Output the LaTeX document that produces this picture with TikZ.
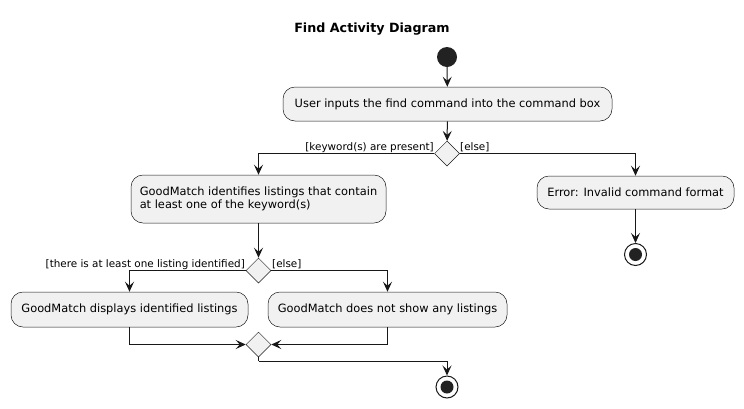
\documentclass[tikz,border=0pt]{standalone}
\usepackage{fontspec}
\setmainfont{DejaVu Sans}
\usepackage{xcolor}
\usetikzlibrary{shapes.geometric, arrows.meta}

\definecolor{boxfill}{HTML}{F1F1F1}
\definecolor{linecol}{HTML}{181818}
\definecolor{dotcol}{HTML}{222222}

\begin{document}
\begin{tikzpicture}[x=1pt, y=-1pt,
  action/.style={draw=linecol, line width=0.5pt, fill=boxfill, rounded corners=12pt,
    minimum height=34pt, inner sep=0pt, font=\fontsize{11.4}{13.5}\selectfont},
  choice/.style={diamond, draw=linecol, line width=0.5pt, fill=boxfill, aspect=1,
    minimum width=25pt, minimum height=25pt, inner sep=0pt},
  guard/.style={inner sep=0pt, font=\fontsize{10.4}{12}\selectfont},
  startdot/.style={circle, fill=dotcol, minimum size=20pt, inner sep=0pt},
  enddot/.style={circle, draw=linecol, line width=1pt, fill=white, minimum size=22pt,
    inner sep=0pt, path picture={\fill[dotcol] (path picture bounding box.center) circle (6.5pt);}},
  flow/.style={draw=linecol, line width=1pt, -{Stealth[length=10pt, width=9pt, inset=4pt]}}]
  \useasboundingbox (0,0) rectangle (744,408);

  % Title
  \node[font=\fontsize{12.7}{15}\selectfont\bfseries] (title) at (372, 29) {Find Activity Diagram};

  % Start and first action
  \node[startdot] (start) at (447, 57) {};
  \node[action, minimum width=329pt] (input) at (447.5, 104)
     {User inputs the find command into the command box};
  \node[choice] (hasKey) at (447, 153.5) {};
  \node[guard, anchor=east] (keyYes) at (434, 147.5) {[keyword(s) are present]};
  \node[guard, anchor=west] (keyNo) at (460, 147.5) {[else]};

  % Else branch
  \node[action, minimum width=197pt, minimum height=33pt] (error) at (635.5, 192.5)
     {Error: Invalid command format};
  \node[enddot] (stopErr) at (635.5, 254.5) {};

  % Keyword branch
  \node[action, minimum width=255pt, minimum height=48pt, align=left]
     (identify) at (258.5, 199)
     {GoodMatch identifies listings that contain\\at least one of the keyword(s)};
  \node[choice] (hasHit) at (258.5, 270.5) {};
  \node[guard, anchor=east] (hitYes) at (245, 264.5) {[there is at least one listing identified]};
  \node[guard, anchor=west] (hitNo) at (272, 264.5) {[else]};
  \node[action, minimum width=237pt, minimum height=35pt] (display) at (129.5, 309.5)
     {GoodMatch displays identified listings};
  \node[action, minimum width=239pt, minimum height=35pt] (noShow) at (387.5, 309.5)
     {GoodMatch does not show any listings};
  \node[choice] (merge) at (258.5, 344.5) {};
  \coordinate (mergeOut) at (258.5, 361);
  \node[enddot] (stopMain) at (447, 387) {};

  % Connectors
  \draw[flow] (start) -- (input);
  \draw[flow] (input) -- (hasKey);
  \draw[flow] (hasKey.west) -| (identify.north);
  \draw[flow] (hasKey.east) -| (error.north);
  \draw[flow] (error) -- (stopErr);
  \draw[flow] (identify) -- (hasHit);
  \draw[flow] (hasHit.west) -| (display.north);
  \draw[flow] (hasHit.east) -| (noShow.north);
  \draw[flow] (display.south) |- (merge.west);
  \draw[flow] (noShow.south) |- (merge.east);
  \draw[draw=linecol, line width=1pt] (merge.south) -- (mergeOut);
  \draw[flow] (mergeOut) -| (stopMain.north);
\end{tikzpicture}
\end{document}
